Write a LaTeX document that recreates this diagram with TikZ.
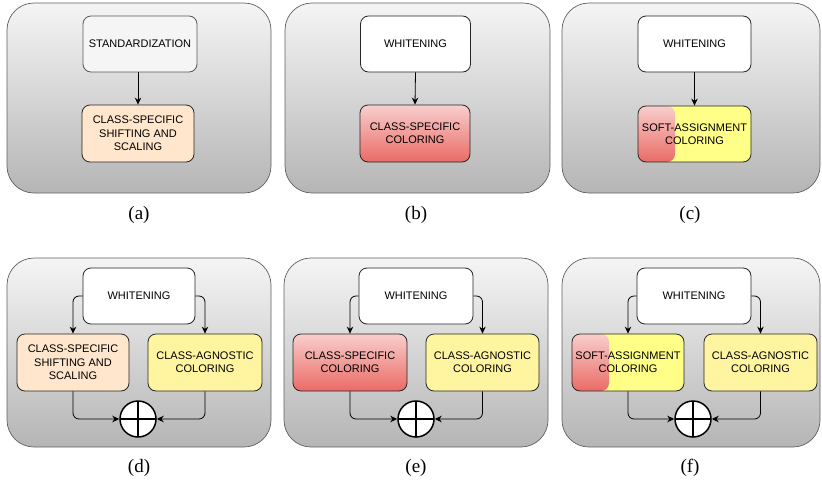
\documentclass[tikz,border=0pt]{standalone}
\usepackage{fontspec}
\setmainfont{Liberation Sans}
\newfontfamily\capfont{Liberation Serif}
\usepackage{xcolor}
\usepackage{tikz}
\usetikzlibrary{arrows.meta, positioning, calc}

\definecolor{peach}{HTML}{FFE6CC}
\definecolor{redtop}{HTML}{F8CECC}
\definecolor{redbot}{HTML}{EA6B66}
\definecolor{softyellow}{HTML}{FFFF88}
\definecolor{agnyellow}{HTML}{FFF5A0}
\definecolor{stdgray}{HTML}{F5F5F5}

\begin{document}
\begin{tikzpicture}[
  x=1pt, y=-1pt,
  panel/.style={rectangle, draw=gray!75!black, line width=0.7pt, rounded corners=27pt, top color=gray!8, bottom color=gray!58, minimum width=264pt, minimum height=190pt},
  op/.style={rectangle, draw=black!85, line width=0.8pt, rounded corners=8pt, minimum width=112pt, minimum height=56pt, align=center, font=\fontsize{11}{13.3}\selectfont},
  stdbox/.style={op, draw=gray!70!black, fill=stdgray},
  whitebox/.style={op, fill=white},
  shiftbox/.style={op, fill=peach},
  colorbox/.style={op, top color=redtop, bottom color=redbot},
  agnbox/.style={op, fill=agnyellow},
  softbox/.style={op, fill=softyellow, path picture={
      \shade[top color=redtop, bottom color=redbot, rounded corners=8pt]
        (path picture bounding box.north west) rectangle ([xshift=37pt]path picture bounding box.south west);}},
  sum/.style={circle, draw=black, line width=1.5pt, fill=white, minimum size=36pt, inner sep=0pt, path picture={
      \draw[line width=1.5pt] (path picture bounding box.north) -- (path picture bounding box.south);
      \draw[line width=1.5pt] (path picture bounding box.west) -- (path picture bounding box.east);}},
  caption/.style={font=\capfont\fontsize{19}{22}\selectfont},
  arrow/.style={-{Stealth[length=7pt, width=6.5pt]}, line width=0.8pt},
  elbow/.style={arrow, rounded corners=6pt}
]
\useasboundingbox (0,0) rectangle (822,485);

% top row
\node[panel] (pa) at (139,98) {};
\node[panel, minimum width=265pt] (pb) at (417.5,98) {};
\node[panel, minimum width=258pt] (pc) at (691,98) {};

\node[stdbox, minimum width=114pt] (stda) at (140,44) {STANDARDIZATION};
\node[shiftbox, minimum height=57pt] (shifta) at (138,133.5) {CLASS-SPECIFIC\\SHIFTING AND\\SCALING};
\draw[arrow] (stda.south -| shifta.north) -- (shifta.north);

\node[whitebox, minimum width=110pt] (whiteb) at (415.5,44) {WHITENING};
\node[colorbox, minimum width=110pt, minimum height=57pt] (colorb) at (415,133.5) {CLASS-SPECIFIC\\COLORING};
\draw[arrow] (whiteb.south) -- (colorb.north);

\node[whitebox, minimum width=113pt] (whitec) at (694.5,44) {WHITENING};
\node[softbox, minimum width=113pt] (softc) at (694.5,134) {SOFT-ASSIGNMENT\\COLORING};
\draw[arrow] (whitec.south) -- (softc.north);

\node[caption] (capa) at (139,215) {(a)};
\node[caption] (capb) at (416,215) {(b)};
\node[caption] (capc) at (690,215) {(c)};

% bottom row
\node[panel, minimum height=189pt] (pd) at (139,352.5) {};
\node[panel, minimum height=189pt] (pe) at (416,352.5) {};
\node[panel, minimum width=258pt, minimum height=189pt] (pf) at (691,352.5) {};

\node[whitebox] (whited) at (139,296) {WHITENING};
\node[shiftbox, minimum height=57pt] (shiftd) at (73,362.5) {CLASS-SPECIFIC\\SHIFTING AND\\SCALING};
\node[agnbox, minimum width=114pt, minimum height=57pt] (agnd) at (205,362.5) {CLASS-AGNOSTIC\\COLORING};
\node[sum] (sumd) at (138,419) {};
\draw[elbow] (whited.west) -| (shiftd.north);
\draw[elbow] (whited.east) -| (agnd.north);
\draw[elbow] (shiftd.south) |- (sumd.west);
\draw[elbow] (agnd.south) |- (sumd.east);

\node[whitebox, minimum width=114pt] (whitee) at (416,296) {WHITENING};
\node[colorbox, minimum width=114pt, minimum height=57pt] (colore) at (350,362.5) {CLASS-SPECIFIC\\COLORING};
\node[agnbox, minimum width=113pt, minimum height=57pt] (agne) at (482.5,362.5) {CLASS-AGNOSTIC\\COLORING};
\node[sum] (sume) at (416,419) {};
\draw[elbow] (whitee.west) -| (colore.north);
\draw[elbow] (whitee.east) -| (agne.north);
\draw[elbow] (colore.south) |- (sume.west);
\draw[elbow] (agne.south) |- (sume.east);

\node[whitebox, minimum width=114pt] (whitef) at (694,296) {WHITENING};
\node[softbox, minimum height=57pt] (softf) at (628,362.5) {SOFT-ASSIGNMENT\\COLORING};
\node[agnbox, minimum width=113pt, minimum height=57pt] (agnf) at (760.5,362.5) {CLASS-AGNOSTIC\\COLORING};
\node[sum] (sumf) at (693,419) {};
\draw[elbow] (whitef.west) -| (softf.north);
\draw[elbow] (whitef.east) -| (agnf.north);
\draw[elbow] (softf.south) |- (sumf.west);
\draw[elbow] (agnf.south) |- (sumf.east);

\node[caption] (capd) at (139,468) {(d)};
\node[caption] (cape) at (416,468) {(e)};
\node[caption] (capf) at (690,468) {(f)};
\end{tikzpicture}
\end{document}
